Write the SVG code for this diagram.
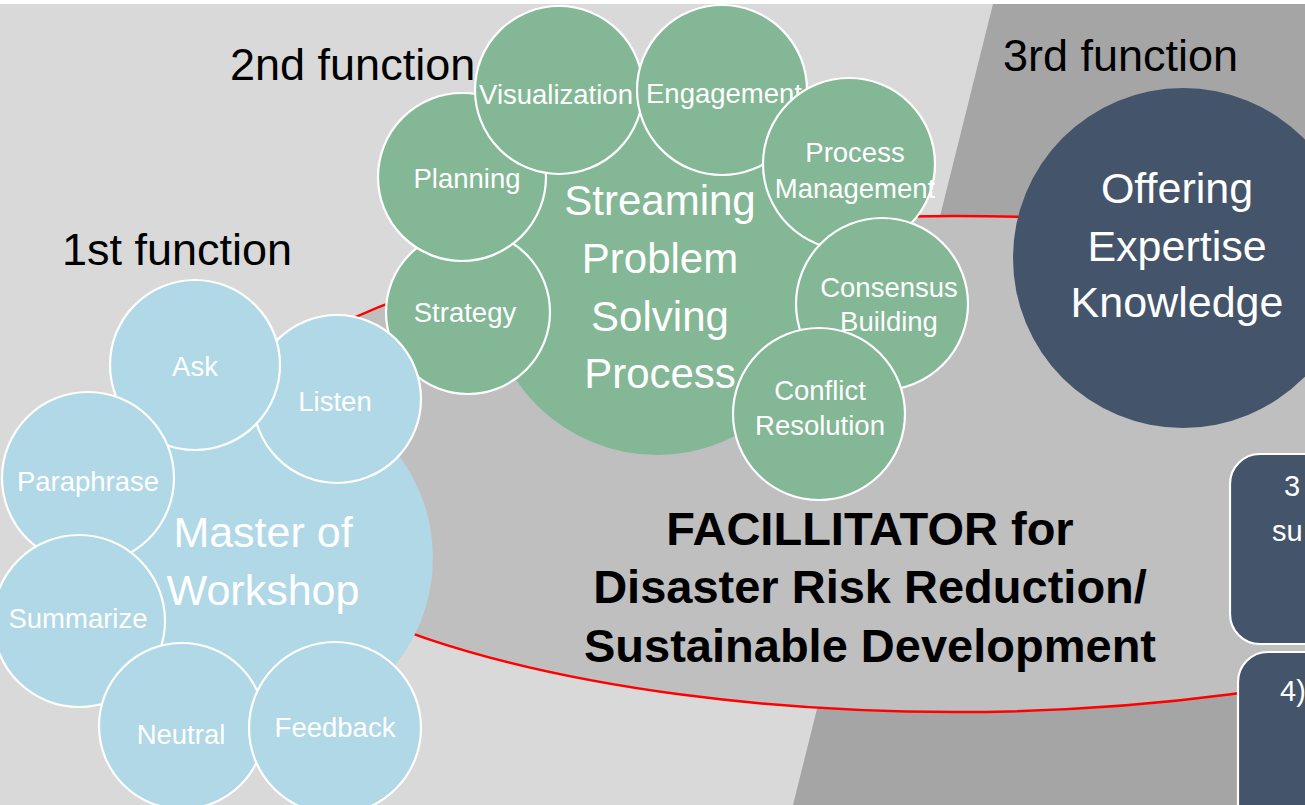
<svg xmlns="http://www.w3.org/2000/svg" width="1305" height="805" viewBox="0 0 1305 805">
<style>
.t{font-family:"Liberation Sans",Arial,sans-serif;text-anchor:middle;}
.w{fill:#ffffff;}
.s{font-size:27.5px;}
.b{font-size:43px;}
.fn{font-family:"Liberation Sans",Arial,sans-serif;font-size:45px;fill:#000000;}
.bx{font-family:"Liberation Sans",Arial,sans-serif;font-size:29px;fill:#ffffff;}
.blue{fill:#b1d8e6;}
.green{fill:#84b795;}
.ring{stroke:#ffffff;stroke-width:2.2;}
.navy{fill:#44546a;}
</style>
<rect x="0" y="0" width="1305" height="805" fill="#ffffff"/>
<rect x="0" y="4" width="1305" height="801" fill="#d9d9d9"/>
<polygon points="993,4 1305,4 1305,805 793,805" fill="#a5a5a5"/>
<g id="connectors">
<ellipse cx="955" cy="464" rx="744" ry="248" fill="#bfbfbf" stroke="#ff0000" stroke-width="2.5"/>
</g>
<text class="fn" x="230" y="80">2nd function</text>
<text class="fn" x="62" y="265">1st function</text>
<text class="fn" x="1003" y="71">3rd function</text>
<g id="streaming">
<circle class="green" cx="657" cy="285" r="170"/>
<text class="t w" font-size="42" x="660" y="215">Streaming</text>
<text class="t w" font-size="42" x="660" y="273">Problem</text>
<text class="t w" font-size="42" x="660" y="331">Solving</text>
<text class="t w" font-size="42" x="660" y="388">Process</text>
</g>
<g id="strategy"><circle class="green ring" cx="468" cy="312" r="82"/><text class="t w s" x="465" y="322">Strategy</text></g>
<g id="planning"><circle class="green ring" cx="462" cy="177" r="84"/><text class="t w s" x="467" y="188">Planning</text></g>
<g id="visualization"><circle class="green ring" cx="559" cy="90" r="84"/><text class="t w s" x="556" y="104">Visualization</text></g>
<g id="engagement"><circle class="green ring" cx="722" cy="90" r="85"/><text class="t w s" x="724" y="103">Engagement</text></g>
<g id="process-management"><circle class="green ring" cx="849" cy="164" r="86"/><text class="t w s" x="855" y="162">Process</text><text class="t w s" x="855" y="198">Management</text></g>
<g id="consensus"><circle class="green ring" cx="882" cy="304" r="86"/><text class="t w s" x="889" y="297">Consensus</text><text class="t w s" x="889" y="331">Building</text></g>
<g id="conflict"><circle class="green ring" cx="819" cy="414" r="86"/><text class="t w s" x="820" y="400">Conflict</text><text class="t w s" x="820" y="435">Resolution</text></g>
<g id="master">
<circle class="blue" cx="262" cy="558" r="171"/>
<text class="t w b" x="263" y="547">Master of</text>
<text class="t w b" x="263" y="605">Workshop</text>
</g>
<g id="listen"><circle class="blue ring" cx="337" cy="399" r="84"/><text class="t w s" x="335" y="411">Listen</text></g>
<g id="ask"><circle class="blue ring" cx="195" cy="365" r="85"/><text class="t w s" x="195" y="376">Ask</text></g>
<g id="paraphrase"><circle class="blue ring" cx="88" cy="478" r="86"/><text class="t w s" x="88" y="491">Paraphrase</text></g>
<g id="summarize"><circle class="blue ring" cx="79" cy="621" r="86"/><text class="t w s" x="78" y="628">Summarize</text></g>
<g id="neutral"><circle class="blue ring" cx="182" cy="726" r="83"/><text class="t w s" x="181" y="744">Neutral</text></g>
<g id="feedback"><circle class="blue ring" cx="335" cy="728" r="86"/><text class="t w s" x="335" y="737">Feedback</text></g>
<g id="offering">
<circle class="navy" cx="1183" cy="258" r="170"/>
<text class="t w b" x="1177" y="203">Offering</text>
<text class="t w b" x="1177" y="261">Expertise</text>
<text class="t w b" x="1177" y="317">Knowledge</text>
</g>
<g id="title">
<text class="t" font-weight="bold" font-size="47" fill="#000000" x="870" y="545">FACILLITATOR for</text>
<text class="t" font-weight="bold" font-size="47" fill="#000000" x="870" y="603">Disaster Risk Reduction/</text>
<text class="t" font-weight="bold" font-size="47" fill="#000000" x="870" y="662">Sustainable Development</text>
</g>
<g id="box3">
<rect class="navy ring" x="1230" y="454" width="140" height="190" rx="30"/>
<text class="bx" x="1284" y="496">3</text>
<text class="bx" x="1272" y="541">su</text>
</g>
<g id="box4">
<rect class="navy ring" x="1238" y="652" width="140" height="200" rx="30"/>
<text class="bx" x="1280" y="701">4)</text>
</g>
</svg>
